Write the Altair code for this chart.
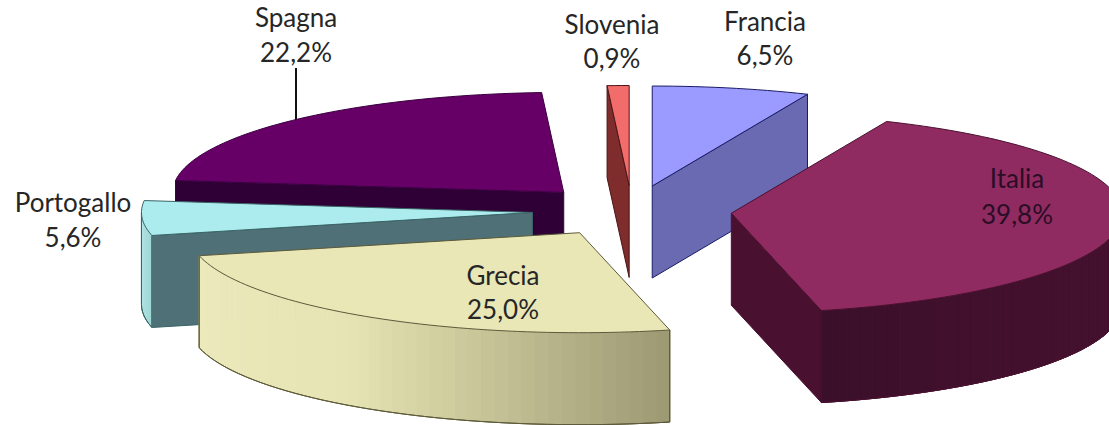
import math
import altair as alt
import pandas as pd

# Share of each country, clockwise from twelve o'clock
countries = ["Francia", "Italia", "Grecia", "Portogallo", "Spagna", "Slovenia"]
shares = [6.5, 39.8, 25.0, 5.6, 22.2, 0.9]

top_colors = ["#9a9aff", "#8f2b61", "#e9e7b6", "#acecee", "#660066", "#f26c6c"]
wall_colors = ["#6a6ab2", "#4a1030", "#000000", "#4f7076", "#2f0036", "#7f2c2c"]
edge_colors = ["#1c1c66", "#4a1030", "#5c5a3a", "#3a6466", "#3a0040", "#4a1515"]

# Outer rim shading, as (fraction along the arc from its clockwise start, colour)
rim_shades = {
    "Italia": [(0.0, "#45102e"), (0.7, "#41102c"), (1.0, "#3a0f29")],
    "Grecia": [(0.0, "#9c9872"), (0.18, "#b5b28a"), (0.37, "#d0cd9f"), (0.55, "#e6e3b4"), (1.0, "#eceabc")],
    "Portogallo": [(0.0, "#9fd6d6"), (1.0, "#b4e6e6")],
}

# Pie seen in parallel projection: ellipse axes, thickness, explosion
CX, CY = 632.0, 211.0
RX, RY = 391.0, 100.0
DEPTH = 92.0
EXPLODE = 0.255

# Draw back to front so nearer slices cover farther ones
draw_order = ["Spagna", "Slovenia", "Francia", "Portogallo", "Grecia", "Italia"]

label_lines = {
    "Spagna": (296, 19, 54),
    "Slovenia": (612, 26, 60),
    "Francia": (765, 23, 57),
    "Italia": (1017, 180, 216),
    "Portogallo": (73, 204, 239),
    "Grecia": (503, 277, 311),
}


def hex_mix(stops, t):
    for (t0, c0), (t1, c1) in zip(stops, stops[1:]):
        if t <= t1:
            f = (t - t0) / (t1 - t0)
            rgb = [
                round(int(c0[i:i + 2], 16) * (1 - f) + int(c1[i:i + 2], 16) * f)
                for i in (1, 3, 5)
            ]
            return "#%02x%02x%02x" % tuple(rgb)
    return stops[-1][1]


rows = []
poly_count = 0


def add_poly(points, fill, stroke):
    global poly_count
    poly_count += 1
    closed = points + [points[0]]
    for seq, (px, py) in enumerate(closed):
        rows.append({"poly": f"p{poly_count:04d}", "seq": seq, "px": px, "py": py,
                     "fill": fill, "stroke": stroke})


def on_ellipse(ox, oy, deg):
    a = math.radians(deg)
    return (ox + RX * math.sin(a), oy - RY * math.cos(a))


def drop(p):
    return (p[0], p[1] + DEPTH)


spans = {}
running = 0.0
for name, share in zip(countries, shares):
    spans[name] = (running * 3.6, (running + share) * 3.6)
    running += share

for name in draw_order:
    idx = countries.index(name)
    start, end = spans[name]
    mid = math.radians((start + end) / 2)
    ox = CX + EXPLODE * RX * math.sin(mid)
    oy = CY - EXPLODE * RY * math.cos(mid)
    apex = (ox, oy)
    arc_start = on_ellipse(ox, oy, start)
    arc_end = on_ellipse(ox, oy, end)
    edge = edge_colors[idx]

    # Cut faces that look towards the viewer
    if name in ("Francia", "Italia"):
        add_poly([apex, arc_end, drop(arc_end), drop(apex)], wall_colors[idx], edge)
    if name in ("Spagna", "Slovenia", "Portogallo"):
        add_poly([apex, arc_start, drop(arc_start), drop(apex)], wall_colors[idx], edge)

    # Curved rim, only where it faces front
    lo, hi = max(start, 90.0), min(end, 270.0)
    if name in rim_shades and hi > lo:
        steps = max(4, int((hi - lo) / 2))
        outline = []
        for k in range(steps):
            a0 = lo + (hi - lo) * k / steps
            a1 = lo + (hi - lo) * (k + 1) / steps
            t = (k + 0.5) / steps
            color = hex_mix(rim_shades[name], t)
            p0, p1 = on_ellipse(ox, oy, a0), on_ellipse(ox, oy, a1)
            add_poly([p0, p1, drop(p1), drop(p0)], color, color)
            outline.append(drop(p0))
        outline.append(drop(on_ellipse(ox, oy, hi)))
        for a, b in zip(outline, outline[1:]):
            add_poly([a, b], "transparent", edge)
        first = on_ellipse(ox, oy, lo)
        last = on_ellipse(ox, oy, hi)
        add_poly([first, drop(first)], "transparent", edge)
        add_poly([last, drop(last)], "transparent", edge)

    # Top face
    n = max(3, int((end - start) / 1.5))
    arc = [on_ellipse(ox, oy, start + (end - start) * k / n) for k in range(n + 1)]
    add_poly([apex] + arc, top_colors[idx], edge)

shapes = pd.DataFrame(rows)

x_scale = alt.Scale(domain=[0, 1109], range=[0, 1109], nice=False, zero=False)
y_scale = alt.Scale(domain=[0, 425], range=[0, 425], nice=False, zero=False)

pie = alt.Chart(shapes).mark_line(strokeWidth=1, clip=True, interpolate="linear").encode(
    x=alt.X("px:Q", scale=x_scale, axis=None),
    y=alt.Y("py:Q", scale=y_scale, axis=None),
    order="seq:Q",
    detail="poly:N",
    fill=alt.Fill("fill:N", scale=None, legend=None),
    stroke=alt.Stroke("stroke:N", scale=None, legend=None),
)

# Leader from the Spagna label down to its slice
leader = alt.Chart(pd.DataFrame({"x": [296], "y0": [68], "y1": [120]})).mark_rule(
    color="#111111", strokeWidth=2
).encode(
    x=alt.X("x:Q", scale=x_scale, axis=None),
    y=alt.Y("y0:Q", scale=y_scale, axis=None),
    y2="y1:Q",
)

text_rows = []
for name, share in zip(countries, shares):
    lx, y1, y2 = label_lines[name]
    ink = "#2b0d26" if name == "Italia" else "#262626"
    text_rows.append({"t": name, "lx": lx, "ly": y1, "ink": ink})
    text_rows.append({"t": f"{share:.1f}%".replace(".", ","), "lx": lx, "ly": y2, "ink": ink})

labels = alt.Chart(pd.DataFrame(text_rows)).mark_text(
    font="Lato", fontSize=26, align="center", baseline="middle"
).encode(
    x=alt.X("lx:Q", scale=x_scale, axis=None),
    y=alt.Y("ly:Q", scale=y_scale, axis=None),
    text="t:N",
    color=alt.Color("ink:N", scale=None, legend=None),
)

chart = alt.layer(leader, pie, labels).properties(
    width=1109, height=425, padding=0,
    autosize=alt.AutoSizeParams(type="none"),
    background="white",
).configure_view(stroke=None)

chart.save("out.html", embed_options={"renderer": "svg", "actions": False})
